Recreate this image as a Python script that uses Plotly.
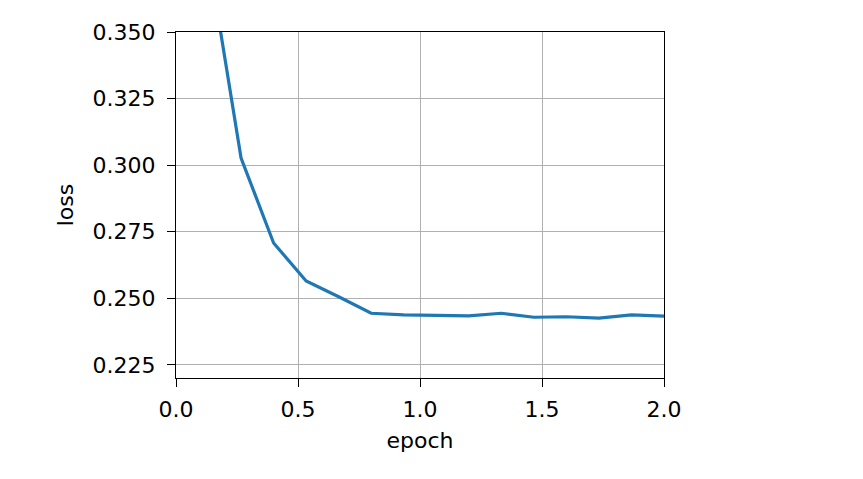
import plotly.graph_objects as go

epoch = [0.1333, 0.2667, 0.4, 0.5333, 0.6667, 0.8, 0.9333, 1.0667, 1.2, 1.3333, 1.4667, 1.6, 1.7333, 1.8667, 2.0]
loss = [0.378, 0.3027, 0.2708, 0.2565, 0.2506, 0.2444, 0.2438, 0.2435, 0.2434, 0.2444, 0.2429, 0.2431, 0.2426, 0.2438, 0.2433]

x_ticks = [0.0, 0.5, 1.0, 1.5, 2.0]
x_tick_labels = ["0.0", "0.5", "1.0", "1.5", "2.0"]
y_ticks = [0.225, 0.250, 0.275, 0.300, 0.325, 0.350]
y_tick_labels = ["0.225", "0.250", "0.275", "0.300", "0.325", "0.350"]

font = dict(family="DejaVu Sans", size=22, color="black")
axis_common = dict(showline=True, linecolor="black", linewidth=1.4, mirror=True,
                   ticks="outside", ticklen=8, tickwidth=1.4, tickcolor="black",
                   showgrid=True, gridcolor="#b0b0b0", gridwidth=1.4,
                   zeroline=False, tickfont=font)

fig = go.Figure()
fig.add_trace(go.Scatter(x=epoch, y=loss, mode="lines",
                         line=dict(color="#1f77b4", width=3.2), showlegend=False))

fig.update_layout(
    width=863, height=479,
    margin=dict(l=168, r=207, t=24, b=109),
    paper_bgcolor="white", plot_bgcolor="white",
    font=font,
    xaxis=dict(range=[0, 2], tickvals=x_ticks, ticktext=x_tick_labels,
               ticklabelstandoff=3,
               title=dict(text="epoch", font=font, standoff=12), **axis_common),
    yaxis=dict(range=[0.2201, 0.35], tickvals=y_ticks, ticktext=y_tick_labels,
               ticklabelstandoff=7,
               title=dict(text="loss", font=font, standoff=12), **axis_common),
)

fig.write_html("out.html")
